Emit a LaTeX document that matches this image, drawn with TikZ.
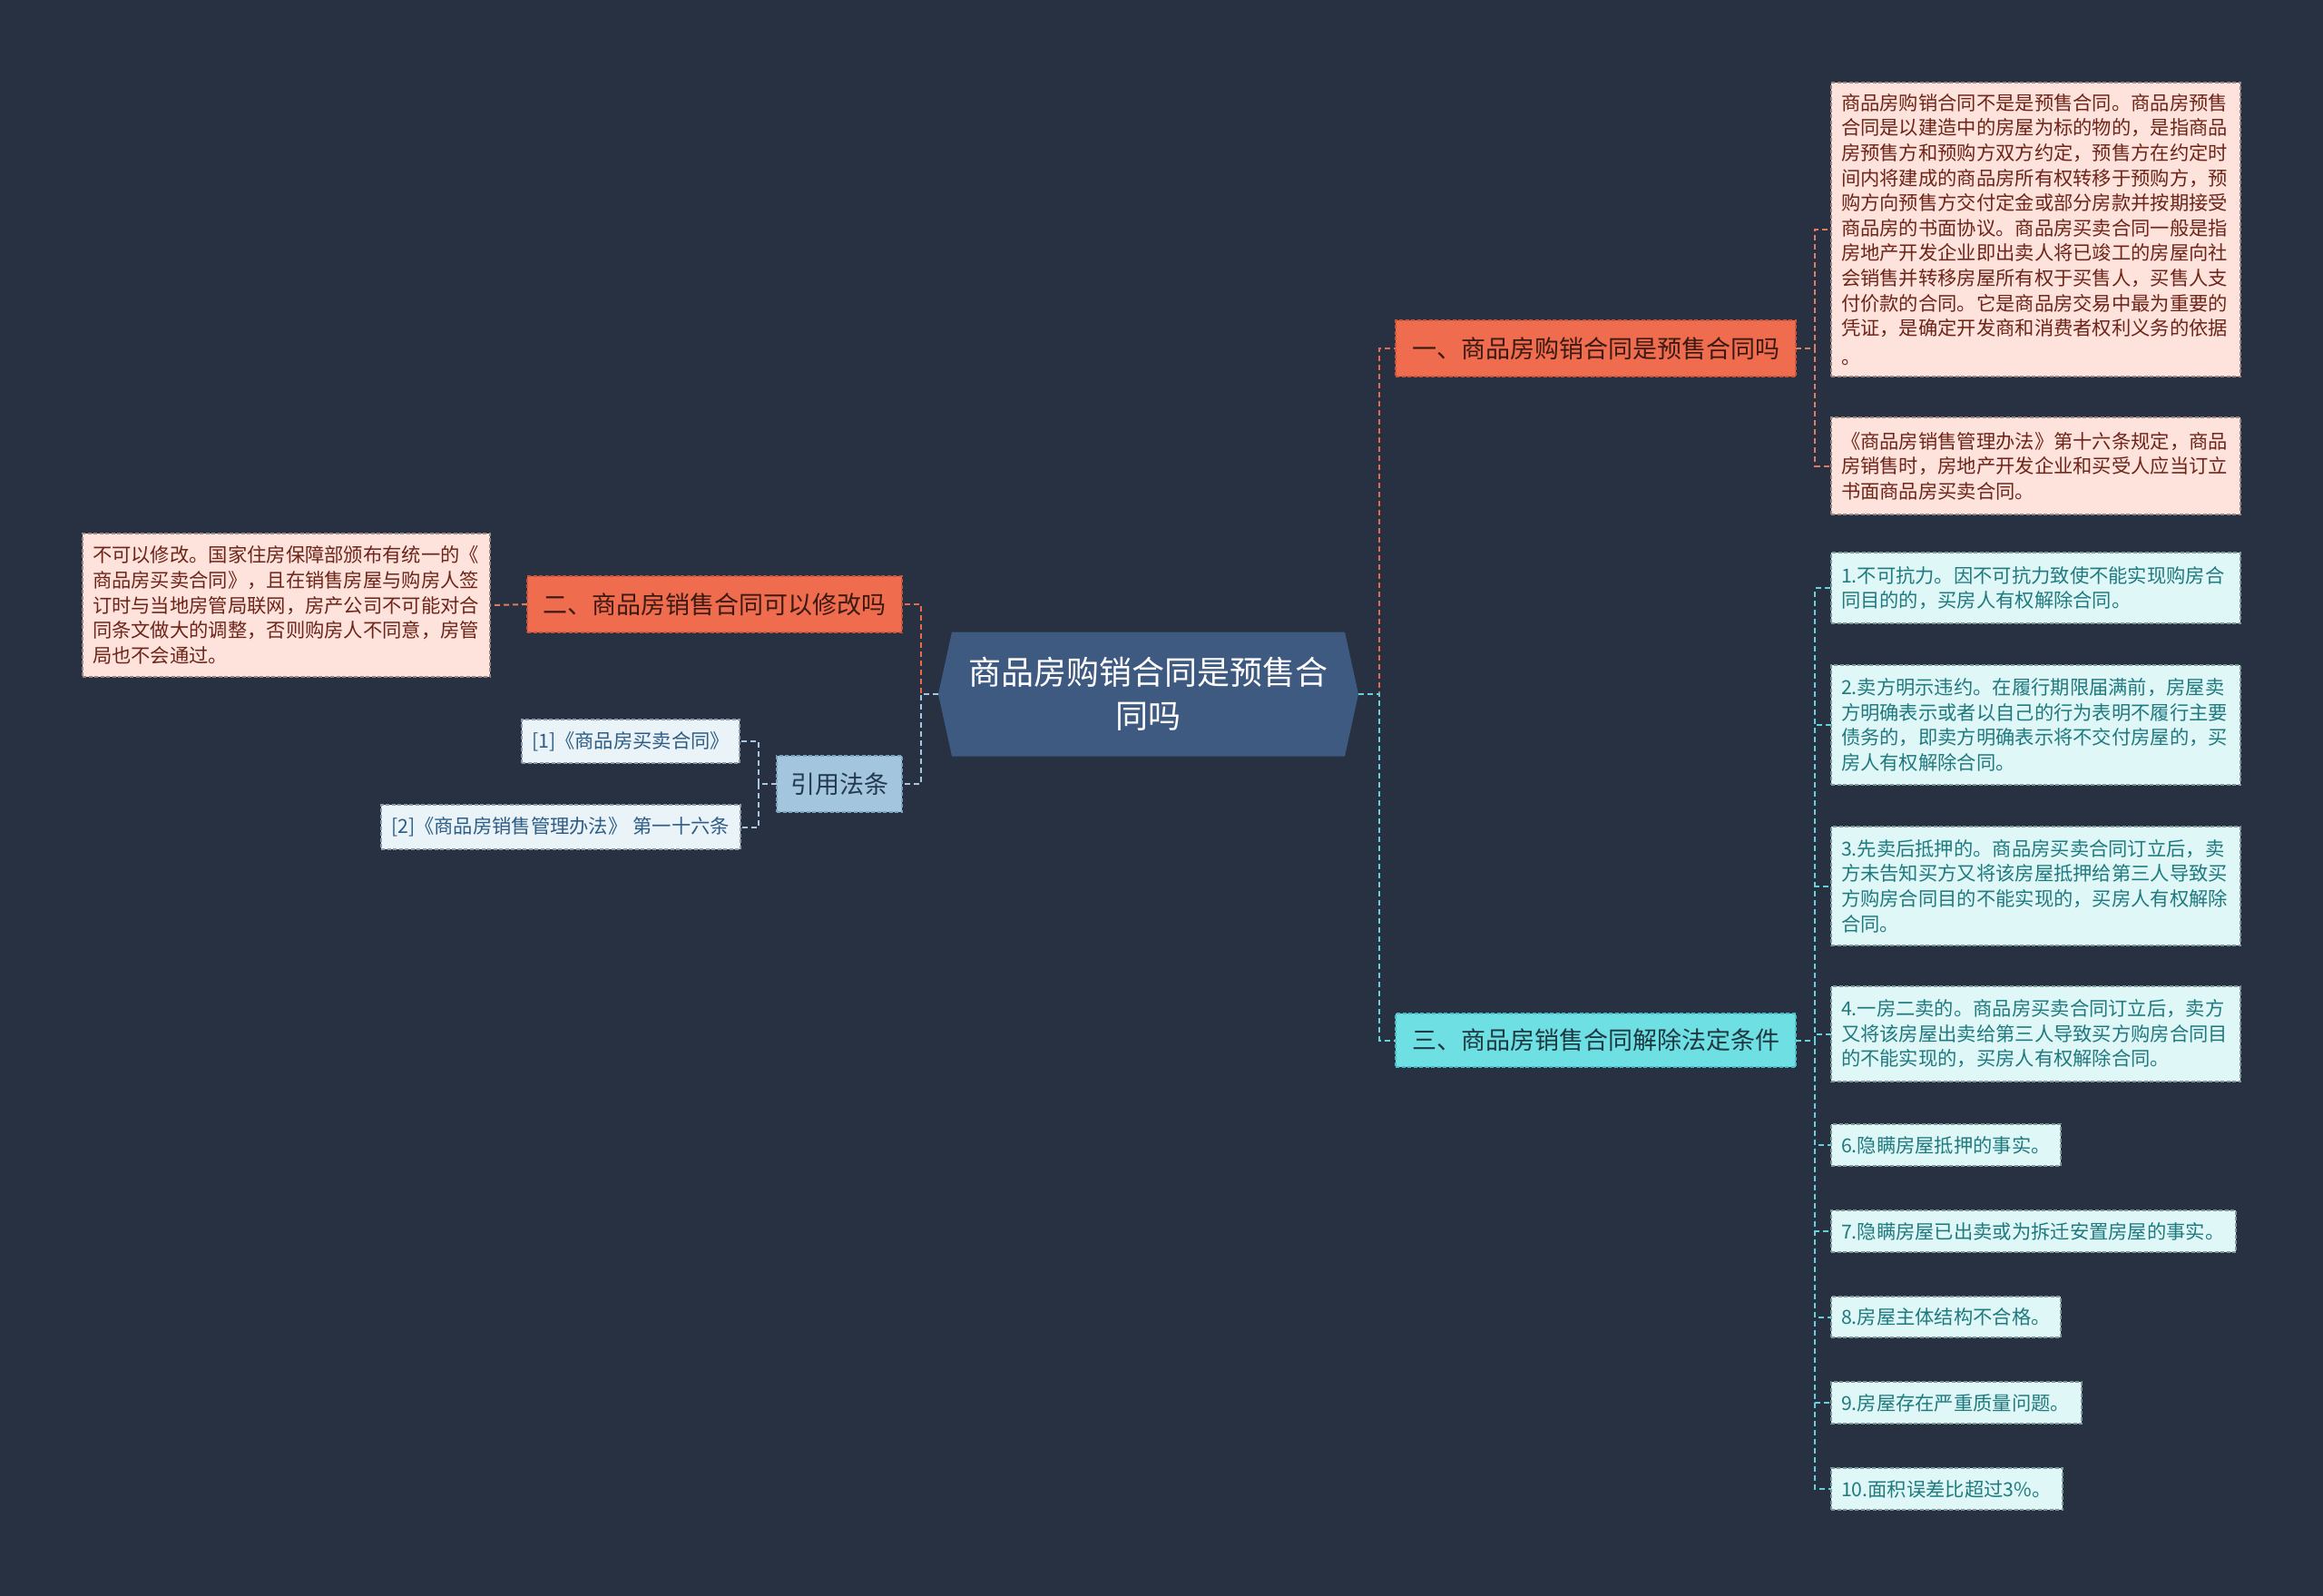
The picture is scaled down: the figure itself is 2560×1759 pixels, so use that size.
\documentclass[tikz,border=0pt]{standalone}
\usepackage{fontspec}
\setmainfont{Noto Sans CJK SC}
\usetikzlibrary{calc,backgrounds}
\definecolor{bgc}{HTML}{283141}
\definecolor{cen}{HTML}{3E5A80}
\definecolor{ora}{HTML}{F06C4E}
\definecolor{orabd}{HTML}{C9553B}
\definecolor{oratx}{HTML}{3A1A12}
\definecolor{pinkf}{HTML}{FDE3DC}
\definecolor{pinkbd}{HTML}{9C8480}
\definecolor{pinktx}{HTML}{6E2418}
\definecolor{cya}{HTML}{6EE0E4}
\definecolor{cyabd}{HTML}{48BCC4}
\definecolor{cyatx}{HTML}{1C3840}
\definecolor{lcyf}{HTML}{E0F7F7}
\definecolor{lcybd}{HTML}{7C9898}
\definecolor{lcytx}{HTML}{1F7A80}
\definecolor{blu}{HTML}{A4C5DE}
\definecolor{blubd}{HTML}{7EA2BE}
\definecolor{blutx}{HTML}{233A50}
\definecolor{lbf}{HTML}{EAF3F8}
\definecolor{lbbd}{HTML}{8A9CAA}
\definecolor{lbtx}{HTML}{2D5D85}
\definecolor{lnora}{HTML}{E8694C}
\definecolor{lncya}{HTML}{62D3DA}
\definecolor{lnblu}{HTML}{A8C8E0}
\definecolor{lnpink}{HTML}{E07A62}
\newcommand\myfs{\fontsize{21.3}{27.6}\selectfont}
\newcommand\myfm{\fontsize{27}{34}\selectfont}
\newcommand\myfl{\fontsize{36}{48}\selectfont}
\tikzset{
  bx/.style={inner xsep=11pt, inner ysep=0pt, outer sep=0pt, align=left,
     line width=1.5pt, dash pattern=on 4pt off 2.5pt},
  sz/.style 2 args={text width=#1, minimum height=#2},
  pinkbox/.style={bx, fill=pinkf, draw=pinkbd, text=pinktx, font=\myfs},
  cyanbox/.style={bx, fill=lcyf, draw=lcybd, text=lcytx, font=\myfs},
  refbox/.style={bx, fill=lbf, draw=lbbd, text=lbtx, font=\myfs},
  lvone/.style={inner sep=0pt, outer sep=0pt, align=center, font=\myfm,
     line width=1.5pt, dash pattern=on 4pt off 2.5pt},
  orabox/.style={lvone, fill=ora, draw=orabd, text=oratx},
  cyabox/.style={lvone, fill=cya, draw=cyabd, text=cyatx},
  blubox/.style={lvone, fill=blu, draw=blubd, text=blutx},
  link/.style={line width=2pt, dash pattern=on 6pt off 4pt},
}
\begin{document}
\begin{tikzpicture}[x=1pt,y=-1pt]
\useasboundingbox (0,0) rectangle (2560,1759);

% central node
\node[inner sep=0pt, outer sep=0pt, minimum width=463pt, minimum height=137pt,
      align=center, text=white, font=\myfl] (c) at (1265.5,765) {商品房购销合同是预售合\\同吗};
\begin{pgfonlayer}{background}
\fill[bgc] (0,0) rectangle (2560,1759);
\fill[cen] (c.west) -- ($(c.north west)+(15,0)$) -- ($(c.north east)+(-15,0)$) -- (c.east)
   -- ($(c.south east)+(-15,0)$) -- ($(c.south west)+(15,0)$) -- cycle;
\end{pgfonlayer}

% level one
\node[orabox, minimum width=441pt, minimum height=62pt] (n1) at (1758.5,384) {一、商品房购销合同是预售合同吗};
\node[cyabox, minimum width=441pt, minimum height=59pt] (n3) at (1758.5,1146.5) {三、商品房销售合同解除法定条件};
\node[orabox, minimum width=413pt, minimum height=62pt] (n2) at (787.5,666) {二、商品房销售合同可以修改吗};
\node[blubox, minimum width=138pt, minimum height=62pt] (n4) at (925,864) {引用法条};

% pink boxes
\node[pinkbox, sz={429pt}{324pt}] (pa) at (2243.5,253) {商品房购销合同不是是预售合同。商品房预售\\合同是以建造中的房屋为标的物的，是指商品\\房预售方和预购方双方约定，预售方在约定时\\间内将建成的商品房所有权转移于预购方，预\\购方向预售方交付定金或部分房款并按期接受\\商品房的书面协议。商品房买卖合同一般是指\\房地产开发企业即出卖人将已竣工的房屋向社\\会销售并转移房屋所有权于买售人，买售人支\\付价款的合同。它是商品房交易中最为重要的\\凭证，是确定开发商和消费者权利义务的依据\\[4pt]。};
\node[pinkbox, sz={429pt}{107pt}] (pb) at (2243.5,513.5) {《商品房销售管理办法》第十六条规定，商品\\房销售时，房地产开发企业和买受人应当订立\\书面商品房买卖合同。};
\node[pinkbox, sz={427pt}{158pt}] (lb) at (315.5,667) {不可以修改。国家住房保障部颁布有统一的《\\商品房买卖合同》，且在销售房屋与购房人签\\订时与当地房管局联网，房产公司不可能对合\\同条文做大的调整，否则购房人不同意，房管\\局也不会通过。};

% reference boxes
\node[refbox, sz={218pt}{48pt}] (r1) at (695,817) {[1]《商品房买卖合同》};
\node[refbox, sz={374pt}{49pt}] (r2) at (618,911.5) {\mbox{[2]《商品房销售管理办法》\hspace{6pt}第一十六条}};

% cyan boxes
\node[cyanbox, sz={429pt}{78pt}] (k1) at (2243.5,648) {1.不可抗力。因不可抗力致使不能实现购房合\\同目的的，买房人有权解除合同。};
\node[cyanbox, sz={429pt}{132pt}] (k2) at (2243.5,799) {2.卖方明示违约。在履行期限届满前，房屋卖\\方明确表示或者以自己的行为表明不履行主要\\债务的，即卖方明确表示将不交付房屋的，买\\房人有权解除合同。};
\node[cyanbox, sz={429pt}{131pt}] (k3) at (2243.5,976.5) {3.先卖后抵押的。商品房买卖合同订立后，卖\\方未告知买方又将该房屋抵押给第三人导致买\\方购房合同目的不能实现的，买房人有权解除\\合同。};
\node[cyanbox, sz={429pt}{105pt}] (k4) at (2243.5,1139.5) {4.一房二卖的。商品房买卖合同订立后，卖方\\又将该房屋出卖给第三人导致买方购房合同目\\的不能实现的，买房人有权解除合同。};
\node[cyanbox, sz={231pt}{46pt}] (k6) at (2144.5,1262) {6.隐瞒房屋抵押的事实。};
\node[cyanbox, sz={424pt}{46pt}] (k7) at (2241,1357) {7.隐瞒房屋已出卖或为拆迁安置房屋的事实。};
\node[cyanbox, sz={231pt}{45pt}] (k8) at (2144.5,1451.5) {8.房屋主体结构不合格。};
\node[cyanbox, sz={254pt}{46pt}] (k9) at (2156,1546) {9.房屋存在严重质量问题。};
\node[cyanbox, sz={233pt}{46pt}] (k10) at (2145.5,1641) {10.面积误差比超过3\%。};

% connectors: central
\draw[link, lnora] (c.east) -- ++(23,0) |- (n1.west);
\draw[link, lncya] (c.east) -- ++(23,0) |- (n3.west);
\draw[link, lnora] (c.west) -- ++(-19,0) |- (n2.east);
\draw[link, lnblu] (c.west) -- ++(-19,0) |- (n4.east);

% connectors: branch one
\foreach \t in {pa,pb} \draw[link, lnpink] (n1.east) -- ++(21,0) |- (\t.west);
% connectors: branch three
\foreach \t in {k1,k2,k3,k4,k6,k7,k8,k9,k10} \draw[link, lncya] (n3.east) -- ++(21,0) |- (\t.west);
% connectors: left
\draw[link, lnpink] (n2.west) -- (lb.east);
\foreach \t in {r1,r2} \draw[link, lnblu] (n4.west) -- ++(-20,0) |- (\t.east);
\end{tikzpicture}
\end{document}
